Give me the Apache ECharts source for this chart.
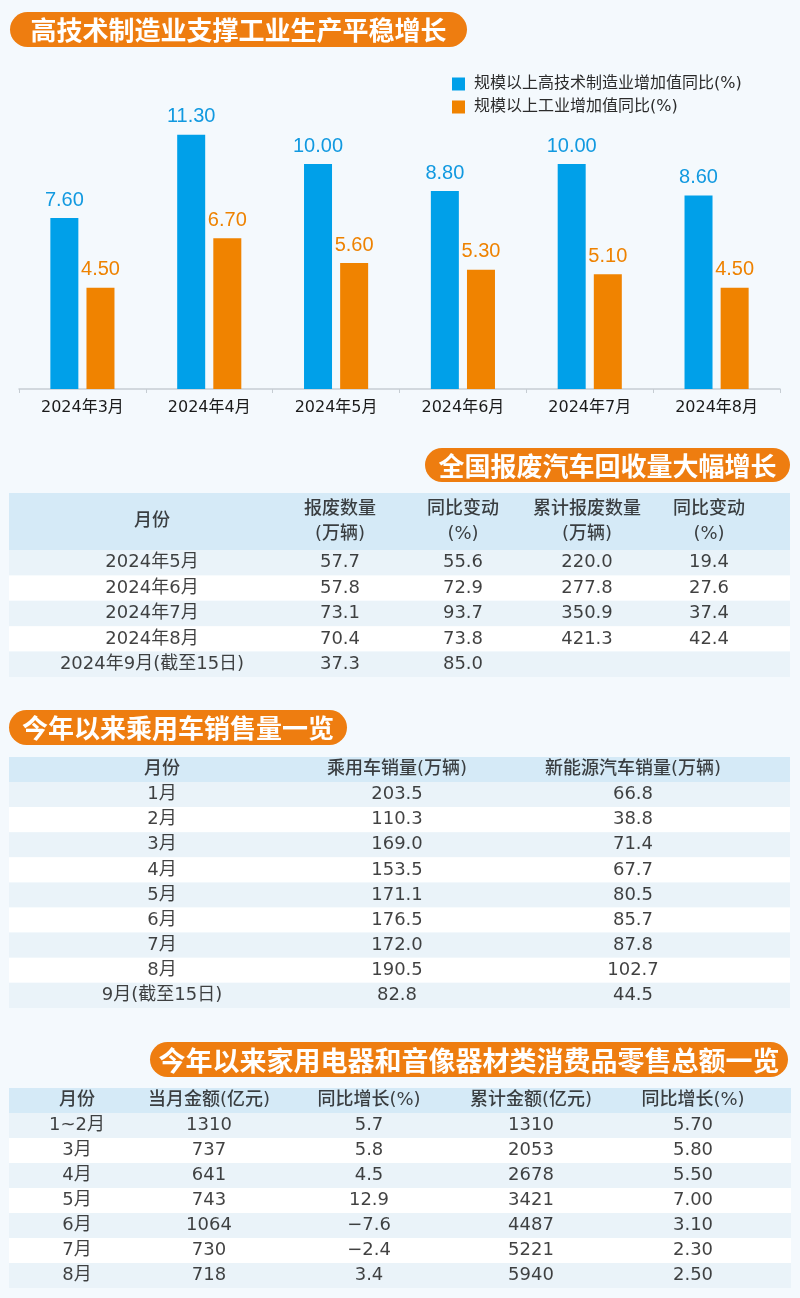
<!DOCTYPE html>
<html><head><meta charset="utf-8">
<script src="https://cdn.jsdelivr.net/npm/echarts@6/dist/echarts.min.js"></script>
<style>html,body{margin:0;padding:0;background:#f4f9fd}#c{width:800px;height:1298px}</style>
</head><body><div id="c"></div>
<script>
// ---------- DATA ----------
const chartTitle = '高技术制造业支撑工业生产平稳增长';
const barMonths = ['2024年3月','2024年4月','2024年5月','2024年6月','2024年7月','2024年8月'];
const legendNames = ['规模以上高技术制造业增加值同比(%)','规模以上工业增加值同比(%)'];
const hiTechGrowth = [7.6, 11.3, 10.0, 8.8, 10.0, 8.6];
const industryGrowth = [4.5, 6.7, 5.6, 5.3, 5.1, 4.5];

const scrapTitle = '全国报废汽车回收量大幅增长';
const scrapHeaders = ['月份','报废数量\n(万辆)','同比变动\n(%)','累计报废数量\n(万辆)','同比变动\n(%)'];
const scrapMonths = ['2024年5月','2024年6月','2024年7月','2024年8月','2024年9月(截至15日)'];
const scrapQty = [57.7, 57.8, 73.1, 70.4, 37.3];
const scrapQtyYoY = [55.6, 72.9, 93.7, 73.8, 85.0];
const scrapCum = [220.0, 277.8, 350.9, 421.3, null];
const scrapCumYoY = [19.4, 27.6, 37.4, 42.4, null];

const carTitle = '今年以来乘用车销售量一览';
const carHeaders = ['月份','乘用车销量(万辆)','新能源汽车销量(万辆)'];
const carMonths = ['1月','2月','3月','4月','5月','6月','7月','8月','9月(截至15日)'];
const carSales = [203.5, 110.3, 169.0, 153.5, 171.1, 176.5, 172.0, 190.5, 82.8];
const nevSales = [66.8, 38.8, 71.4, 67.7, 80.5, 85.7, 87.8, 102.7, 44.5];

const appTitle = '今年以来家用电器和音像器材类消费品零售总额一览';
const appHeaders = ['月份','当月金额(亿元)','同比增长(%)','累计金额(亿元)','同比增长(%)'];
const appMonths = ['1~2月','3月','4月','5月','6月','7月','8月'];
const appMonthly = [1310, 737, 641, 743, 1064, 730, 718];
const appMonthlyYoY = [5.7, 5.8, 4.5, 12.9, -7.6, -2.4, 3.4];
const appCum = [1310, 2053, 2678, 3421, 4487, 5221, 5940];
const appCumYoY = [5.70, 5.80, 5.50, 7.00, 3.10, 2.30, 2.50];

// ---------- STYLE / LAYOUT ----------
const BG = '#f4f9fd', HEAD_BG = '#d5eaf7', ROW_LIGHT = '#eaf3f9', ROW_WHITE = '#ffffff';
const ORANGE = '#f08300', BLUE = '#00a0e9', PILL = '#ee7d10', TXT = '#111111';
const LAT = "'DejaVu Sans','Noto Sans CJK SC',sans-serif";
const CJK = "'Noto Sans CJK SC',sans-serif";

const f1 = v => (v == null ? '' : v.toFixed(1).replace('-', '−'));
const f0 = v => String(v);
const f2 = v => v.toFixed(2);

const option = {
  backgroundColor: BG,
  animation: false,
  tooltip: {show: false},
  legend: {
    data: legendNames, orient: 'vertical', left: 447, top: 71,
    itemWidth: 13, itemHeight: 13, itemGap: 7, icon: 'rect', selectedMode: false,
    textStyle: {fontSize: 16, color: '#2b2b2b', fontFamily: LAT, padding: [0, 0, 0, 4]}
  },
  grid: [{left: 19, right: 20, top: 119, height: 270, outerBoundsMode: 'none'}],
  xAxis: [{
    type: 'category', gridIndex: 0, data: barMonths,
    axisLine: {lineStyle: {color: '#c6cdd3', width: 1.5}},
    axisTick: {show: true, length: 4, lineStyle: {color: '#c6cdd3'}},
    axisLabel: {fontSize: 16, color: '#1a1a1a', margin: 11, fontFamily: LAT}
  }],
  yAxis: [{type: 'value', gridIndex: 0, min: 0, max: 12, show: false}],
  series: [
    {type: 'bar', name: legendNames[0], data: hiTechGrowth, barWidth: 28, barGap: '29%',
     itemStyle: {color: BLUE}, silent: true,
     label: {show: true, position: 'top', distance: 8, formatter: p => f2(p.value),
             fontSize: 20, fontFamily: "'Liberation Sans',sans-serif", color: '#1199e0'}},
    {type: 'bar', name: legendNames[1], data: industryGrowth, barWidth: 28,
     itemStyle: {color: ORANGE}, silent: true,
     label: {show: true, position: 'top', distance: 8, formatter: p => f2(p.value),
             fontSize: 20, fontFamily: "'Liberation Sans',sans-serif", color: '#ee8200'}}
  ],
  graphic: []
};

function pill(x, y, w, h, text, fs) {
  option.graphic.push({type: 'rect', shape: {x, y, width: w, height: h, r: h / 2}, style: {fill: PILL}, silent: true});
  option.graphic.push({type: 'text', x: x + w / 2, y: y + h / 2 + 1, silent: true,
    style: {text, fill: '#fff', fontSize: fs, fontWeight: 'bold', fontFamily: CJK, align: 'center', verticalAlign: 'middle'}});
}

function axisPair(gi, left, right, cats, colors) {
  option.xAxis.push({type: 'value', gridIndex: gi, min: left, max: right, show: false});
  option.yAxis.push({type: 'category', gridIndex: gi, data: cats, inverse: true,
    axisLine: {show: false}, axisTick: {show: false}, axisLabel: {show: false}, splitLine: {show: false},
    splitArea: {show: true, interval: 0, areaStyle: {color: colors}}});
}

function textSeries(gi, points, texts, style) {
  option.series.push({type: 'scatter', xAxisIndex: gi, yAxisIndex: gi, silent: true,
    symbolSize: 1, itemStyle: {color: 'rgba(0,0,0,0)'},
    data: points,
    label: Object.assign({show: true, position: 'inside', color: TXT, fontFamily: LAT,
      formatter: p => texts[p.dataIndex]}, style)});
}

function table(spec) {
  const {left, right, headTop, headH, rowH, headers, rows, cols, xs} = spec;
  let gi = option.grid.length;
  option.grid.push({left, width: right - left, top: headTop, height: headH, outerBoundsMode: 'none'});
  axisPair(gi, left, right, ['h'], [HEAD_BG]);
  textSeries(gi, headers.map((h, i) => [xs[i], 0]), headers,
    {fontSize: 18, fontWeight: 500, lineHeight: 25});
  gi = option.grid.length;
  option.grid.push({left, width: right - left, top: headTop + headH, height: rowH * rows.length, outerBoundsMode: 'none'});
  axisPair(gi, left, right, rows, [ROW_LIGHT, ROW_WHITE]);
  cols.forEach((col, c) => {
    const pts = [], txt = [];
    col.values.forEach((v, r) => {
      if (v == null) return;
      pts.push([xs[c], r]);
      txt.push(col.fmt(v));
    });
    textSeries(gi, pts, txt, {fontSize: 18});
  });
}

pill(10, 12, 457, 35, chartTitle, 26);
pill(425, 448, 365, 34, scrapTitle, 26);
pill(9, 710, 338, 35, carTitle, 26);
pill(150, 1042, 638, 35, appTitle, 27);

table({left: 9, right: 790, headTop: 493, headH: 57, rowH: 25.4, headers: scrapHeaders, rows: scrapMonths,
  xs: [152, 340, 463, 587, 709],
  cols: [{values: scrapMonths, fmt: f0}, {values: scrapQty, fmt: f1}, {values: scrapQtyYoY, fmt: f1},
         {values: scrapCum, fmt: f1}, {values: scrapCumYoY, fmt: f1}]});

table({left: 9, right: 790, headTop: 757, headH: 25, rowH: 25.1, headers: carHeaders, rows: carMonths,
  xs: [162, 397, 633],
  cols: [{values: carMonths, fmt: f0}, {values: carSales, fmt: f1}, {values: nevSales, fmt: f1}]});

table({left: 9, right: 791, headTop: 1088, headH: 25, rowH: 25, headers: appHeaders, rows: appMonths,
  xs: [77, 209, 369, 531, 693],
  cols: [{values: appMonths, fmt: f0}, {values: appMonthly, fmt: f0}, {values: appMonthlyYoY, fmt: f1},
         {values: appCum, fmt: f0}, {values: appCumYoY, fmt: f2}]});

const chart = echarts.init(document.getElementById('c'), null, {renderer: 'canvas'});
chart.setOption(option);
</script>
</body></html>
